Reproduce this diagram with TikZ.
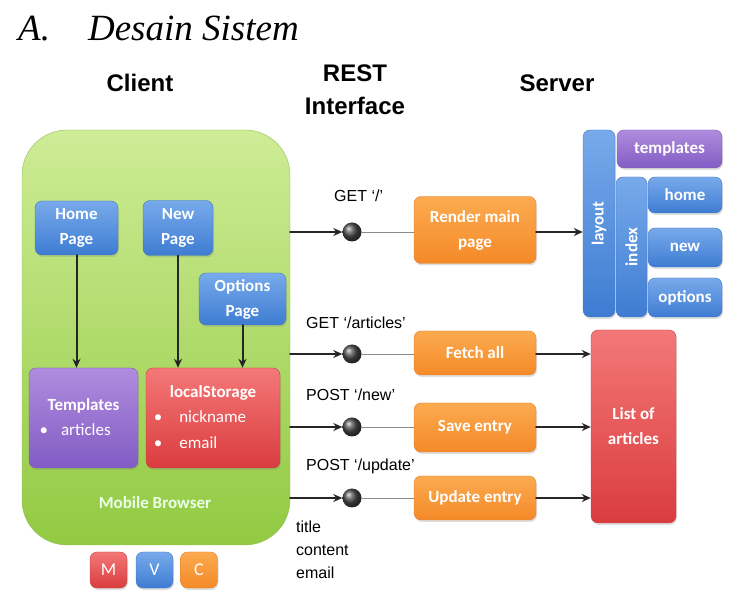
\documentclass[tikz,border=0pt]{standalone}
\usepackage{fontspec}
\setmainfont{Liberation Serif}
\newfontfamily\arialfont{Liberation Sans}
\newfontfamily\boxfont{Carlito}
\usetikzlibrary{arrows.meta,positioning,shadows}

\definecolor{grntop}{RGB}{206,236,150}
\definecolor{grnbot}{RGB}{146,202,66}
\definecolor{grnedge}{RGB}{150,190,90}
\definecolor{blutop}{RGB}{120,170,235}
\definecolor{blubot}{RGB}{62,124,210}
\definecolor{bluedge}{RGB}{70,120,190}
\definecolor{orgtop}{RGB}{252,170,80}
\definecolor{orgbot}{RGB}{244,138,40}
\definecolor{orgedge}{RGB}{225,130,50}
\definecolor{redtop}{RGB}{244,120,120}
\definecolor{redbot}{RGB}{218,60,62}
\definecolor{rededge}{RGB}{190,70,70}
\definecolor{purtop}{RGB}{176,140,222}
\definecolor{purbot}{RGB}{130,92,196}
\definecolor{puredge}{RGB}{120,90,170}

\tikzset{
  box/.style={rounded corners=7pt, text=white, align=center, inner sep=2pt,
    font=\boxfont\bfseries\fontsize{17}{25}\selectfont,
    drop shadow={shadow xshift=1pt, shadow yshift=-2pt, opacity=0.25}},
  bluebox/.style={box, top color=blutop, bottom color=blubot, draw=bluedge},
  orgbox/.style={box, top color=orgtop, bottom color=orgbot, draw=orgedge},
  redbox/.style={box, top color=redtop, bottom color=redbot, draw=rededge},
  purbox/.style={box, top color=purtop, bottom color=purbot, draw=puredge},
  legend/.style={minimum width=37pt, minimum height=36pt, font=\boxfont\fontsize{18}{20}\selectfont},
  header/.style={font=\arialfont\bfseries\fontsize{24}{33}\selectfont, align=center},
  lbl/.style={font=\arialfont\fontsize{16}{23}\selectfont, anchor=west, align=left, inner sep=0pt},
  dotball/.style={circle, minimum size=19pt, inner sep=0pt, ball color=black!70},
  conn/.style={-{Stealth[length=9pt,width=8pt]}, line width=2pt, black!85},
  feed/.style={line width=0.8pt, black!45},
}

\begin{document}
\begin{tikzpicture}[x=1pt, y=-1pt, line cap=round, line join=round]
  \useasboundingbox (0,0) rectangle (753,609);

  % Title and column headers
  \node[anchor=base west, inner sep=0pt, font=\itshape\fontsize{37}{40}\selectfont] (title)
    at (18,41) {A.\hspace*{38pt}Desain Sistem};
  \node[header, anchor=base] (hclient) at (140,92) {Client};
  \node[header, anchor=base] (hrest) at (355,115) {REST\\Interface};
  \node[header, anchor=base] (hserver) at (557,92) {Server};

  % Client side: mobile browser
  \node[rounded corners=45pt, top color=grntop, bottom color=grnbot, draw=grnedge,
        minimum width=268pt, minimum height=415pt] (client) at (156,337.5) {};
  \node[text=white!92!green, font=\boxfont\bfseries\fontsize{17}{20}\selectfont] (mbrowser)
    at (155,503) {Mobile Browser};

  % Views
  \node[bluebox, minimum width=83pt, minimum height=54pt] (home) at (76.5,228) {Home\\Page};
  \node[bluebox, minimum width=70pt, minimum height=55pt] (newp) at (178,228) {New\\Page};
  \node[bluebox, minimum width=87pt, minimum height=52pt] (opts) at (242.5,299) {Options\\Page};

  % Templates and storage
  \node[purbox, minimum width=109pt, minimum height=100pt] (templ) at (83.5,418)
    {\raisebox{-5pt}{\begin{tabular}{@{}l@{}}\multicolumn{1}{c}{Templates}\\[0pt]
      \mdseries\hspace*{-2pt}\textbullet\hspace{13pt}articles\end{tabular}}};
  \node[redbox, minimum width=134pt, minimum height=100pt] (lstore) at (213,418)
    {\begin{tabular}{@{}l@{}}\multicolumn{1}{c}{localStorage}\\[0pt]
      \mdseries\hspace*{-10pt}\textbullet\hspace{17pt}nickname\\[1pt]
      \mdseries\hspace*{-10pt}\textbullet\hspace{17pt}email\end{tabular}};

  \draw[conn] (home.south) -- (home.south |- templ.north);
  \draw[conn] (newp.south) -- (newp.south |- lstore.north);
  \draw[conn] (opts.south) -- (opts.south |- lstore.north);

  % Legend
  \node[redbox, legend] (lm) at (108.5,570) {M};
  \node[bluebox, legend] (lv) at (154.5,570) {V};
  \node[orgbox, legend] (lc) at (199,570) {C};

  % REST interface
  \node[dotball] (d1) at (352,232) {};
  \node[dotball] (d2) at (352,354) {};
  \node[dotball] (d3) at (352,427) {};
  \node[dotball] (d4) at (352,498) {};

  \node[lbl] (l1) at (334,196) {GET ‘/’};
  \node[lbl] (l2) at (306,323) {GET ‘/articles’};
  \node[lbl] (l3) at (306,395) {POST ‘/new’};
  \node[lbl] (l4) at (306,466) {POST ‘/update’};
  \node[lbl] (body) at (296,550) {title\\content\\email};

  % Controllers
  \node[orgbox, minimum width=122pt, minimum height=67pt] (render) at (475,230) {Render main\\page};
  \node[orgbox, minimum width=122pt, minimum height=44pt] (fetch) at (475,353) {Fetch all};
  \node[orgbox, minimum width=122pt, minimum height=49pt] (save) at (475,427.5) {Save entry};
  \node[orgbox, minimum width=122pt, minimum height=44pt] (upd) at (475,498) {Update entry};

  \foreach \d/\c in {d1/render, d2/fetch, d3/save, d4/upd} {
    \draw[conn] (client.east |- \d) -- (\d.west);
    \draw[feed] (\d.east) -- (\d -| \c.west);
  }

  % Server side: views
  \node[bluebox, rotate=90, minimum width=187pt, minimum height=32pt] (layout) at (599,223.5) {layout};
  \node[purbox, minimum width=105pt, minimum height=38pt] (stempl) at (669.5,149) {templates};
  \node[bluebox, rotate=90, minimum width=140pt, minimum height=31pt] (index) at (631.5,247) {index};
  \node[bluebox, minimum width=74pt, minimum height=36pt] (shome) at (685,195) {home};
  \node[bluebox, minimum width=74pt, minimum height=39pt] (snew) at (685,247.5) {new};
  \node[bluebox, minimum width=74pt, minimum height=39pt] (sopts) at (685,297.5) {options};

  % Server side: model
  \node[redbox, minimum width=85pt, minimum height=193pt] (list) at (633.5,426.5) {List of\\articles};

  \draw[conn] (render.east |- d1) -- (d1 -| layout.north);
  \draw[conn] (fetch.east |- d2) -- (d2 -| list.west);
  \draw[conn] (save.east |- d3) -- (d3 -| list.west);
  \draw[conn] (upd.east |- d4) -- (d4 -| list.west);

\end{tikzpicture}
\end{document}
